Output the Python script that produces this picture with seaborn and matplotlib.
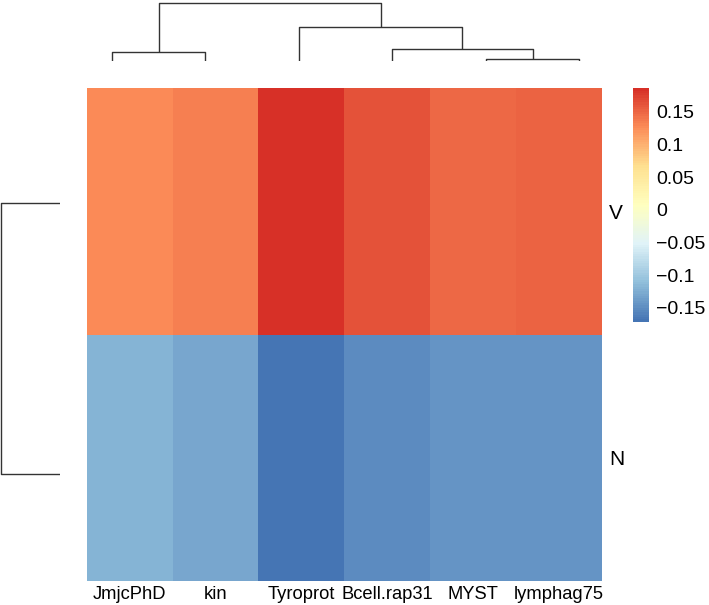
import numpy as np
import pandas as pd
import matplotlib
matplotlib.use("Agg")
import matplotlib.pyplot as plt
from matplotlib.colors import LinearSegmentedColormap
from matplotlib.ticker import FuncFormatter
import seaborn as sns

genes = ["JmjcPhD", "kin", "Tyroprot", "Bcell.rap31", "MYST", "lymphag75"]
groups = ["V", "N"]
v_vals = [0.127, 0.135, 0.186, 0.162, 0.150, 0.151]
n_vals = [-0.121, -0.129, -0.171, -0.153, -0.144, -0.145]
palette = ["#4575B4", "#91BFDB", "#E0F3F8", "#FFFFBF", "#FEE090", "#FC8D59", "#D73027"]
cbar_ticks = [-0.15, -0.1, -0.05, 0, 0.05, 0.1, 0.15]

W, H = 709, 605

def px(x0, y0, x1, y1):
    # pixel box (top-left origin) -> figure fraction rect
    return [x0 / W, 1 - y1 / H, (x1 - x0) / W, (y1 - y0) / H]

plt.rcParams["font.family"] = ["Liberation Sans", "DejaVu Sans"]

df = pd.DataFrame([v_vals, n_vals], index=groups, columns=genes)
cmap = LinearSegmentedColormap.from_list("rdylbu", palette, N=100)

g = sns.clustermap(
    df,
    method="complete",
    metric="euclidean",
    cmap=cmap,
    vmin=df.values.min(),
    vmax=df.values.max(),
    figsize=(W / 100, H / 100),
    tree_kws=dict(linewidths=1.0, colors="#333333"),
    cbar_kws=dict(ticks=cbar_ticks),
)

hm = g.ax_heatmap
hm.set_position(px(86.7, 88.3, 602, 580.7))
g.ax_col_dendrogram.set_position(px(65, 0, 626, 60.5))
g.ax_row_dendrogram.set_position(px(0, 67.5, 60, 609.5))
g.ax_cbar.set_position(px(633.3, 88.3, 649, 321.7))

# dendrogram extents: root touching the outer edge
ylo, yhi = g.ax_col_dendrogram.get_ylim()
g.ax_col_dendrogram.set_ylim(0, max(ylo, yhi) / 1.05 * 60.5 / 57.5)
xlo, xhi = g.ax_row_dendrogram.get_xlim()
top = max(xlo, xhi) / 1.05
g.ax_row_dendrogram.set_xlim(top * 1.012, 0)

hm.set_xlabel("")
hm.set_ylabel("")
hm.tick_params(axis="both", length=0)
hm.tick_params(axis="x", pad=4, labelsize=13.2)
hm.tick_params(axis="y", pad=5, labelsize=15)
plt.setp(hm.get_xticklabels(), rotation=0)
plt.setp(hm.get_yticklabels(), rotation=0)

cb = hm.collections[0].colorbar
cb.outline.set_visible(False)
cb.ax.tick_params(length=0, labelsize=14, pad=5)
cb.ax.yaxis.set_major_formatter(FuncFormatter(lambda v, p: ("%g" % round(v, 3)).replace("-", "\u2212")))

g.figure.savefig("out.png", dpi=100)
